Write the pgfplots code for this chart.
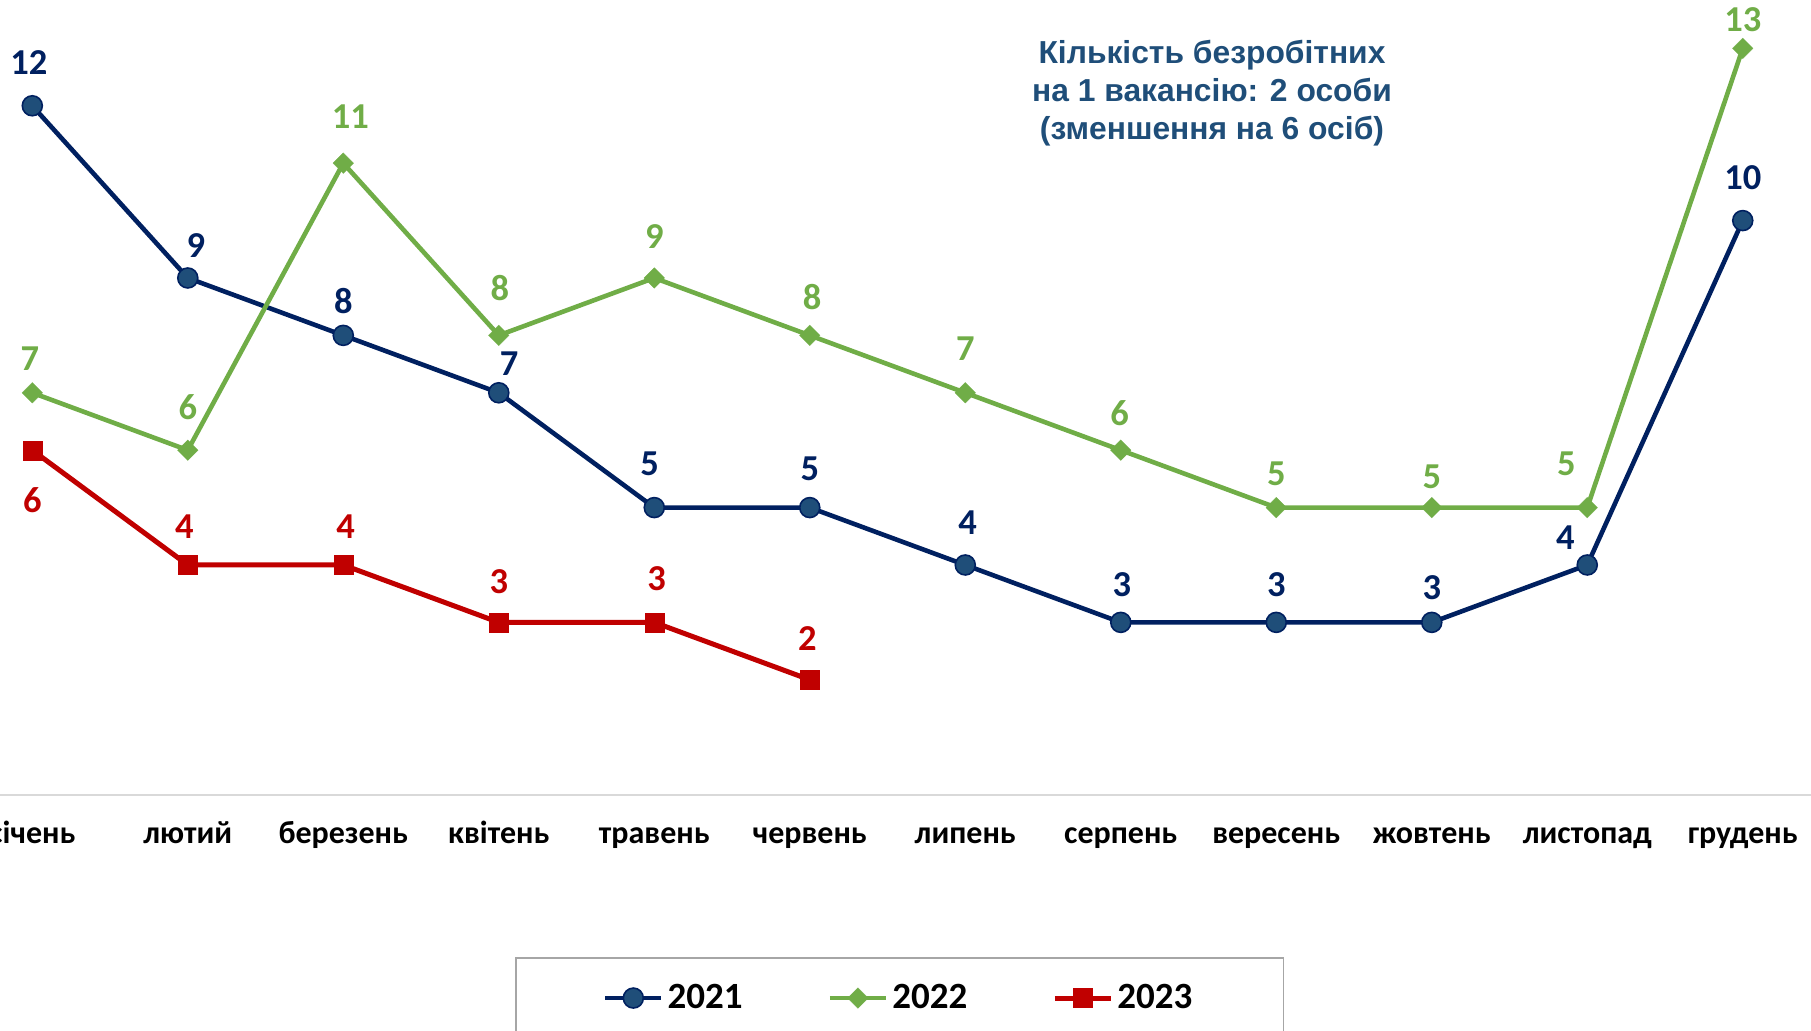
\documentclass[border=0pt]{standalone}
\usepackage{pgfplots}
\pgfplotsset{compat=1.18}
\usepackage{pgfplotstable}
\usepackage{fontspec}
\setmainfont{Carlito}
\newfontfamily\arialf{Liberation Sans}
\definecolor{navy}{RGB}{0,32,96}
\definecolor{markblue}{RGB}{31,78,121}
\definecolor{titleblue}{RGB}{31,78,121}
\definecolor{grn}{RGB}{112,173,71}
\definecolor{rd}{RGB}{192,0,0}
\definecolor{axgray}{RGB}{217,217,217}

% x = month index, y = value, dx/dy = label offset (pt)
\pgfplotstableread{
x y dx dy
0 12 -1.7 21.4
1 9 4.0 16.2
2 8 0 17.3
3 7 5.2 14.4
4 5 -2.3 21.9
5 5 0 19.6
6 4 1.2 21.4
7 3 0.6 19.0
8 3 0 19.0
9 3 0 17.3
10 4 -11.0 13.9
11 10 0 21.4
}\tA
\pgfplotstableread{
x y dx dy
0 7 -1.2 17.3
1 6 0 21.4
2 11 3.5 23.1
3 8 0.6 23.7
4 9 0 20.8
5 8 1.2 19.0
6 7 0 21.9
7 6 -0.6 18.5
8 5 0 16.7
9 5 0 15.6
10 5 -10.4 21.9
11 13 0 14.4
}\tB
\pgfplotstableread{
x y dx dy
0 6 0 -24.8
1 4 -1.7 19.0
2 4 1.2 19.0
3 3 0 20.2
4 3 1.2 21.9
5 2 -1.2 20.8
}\tC

\begin{document}
\begin{tikzpicture}
\begin{axis}[
  at={(0pt,118.2pt)}, anchor=south west,
  width=905.5pt, height=397.3pt, scale only axis,
  xmin=-0.2077, xmax=11.439, ymin=0, ymax=13.843,
  clip=false,
  axis y line=none,
  axis x line=bottom,
  x axis line style={draw=axgray, line width=1pt, -},
  xtick={0,...,11}, major tick length=0pt,
  xticklabels={січень,лютий,березень,квітень,травень,червень,липень,серпень,вересень,жовтень,листопад,грудень},
  xticklabel style={anchor=base, yshift=-24.7pt, font=\bfseries\fontsize{16}{18}\selectfont},
  nodes near coords={\pgfplotspointmeta},
  point meta=explicit symbolic,
  visualization depends on={\thisrow{dx}\as\dx},
  visualization depends on={\thisrow{dy}\as\dy},
  nodes near coords style={anchor=center, inner sep=0pt, xshift=\dx pt, yshift=\dy pt,
    font=\bfseries\fontsize{18.25}{20}\selectfont},
  legend columns=3,
  legend image code/.code={\draw[#1, mark repeat=2, mark phase=2] plot coordinates {(0pt,0pt) (14pt,0pt) (28pt,0pt)};},
  legend style={at={(axis description cs:0.2844,-0.2044)}, anchor=north west,
    draw=gray!70, line width=0.8pt, inner xsep=43.6pt, inner ysep=11.3pt,
    font=\bfseries\fontsize{18.5}{20}\selectfont,
    /tikz/every even column/.append style={column sep=40.5pt}},
]
\addplot[navy, line width=2.3pt, mark=*, mark size=5pt,
  mark options={fill=markblue, draw=navy, line width=0.8pt},
  every node near coord/.append style={text=navy}]
  table[x=x, y=y, meta=y] {\tA};
\addlegendentry{2021}
\addplot[grn, line width=2.3pt, mark=square*, mark size=3.65pt,
  mark options={rotate=45, fill=grn, draw=grn, line width=0.1pt},
  every node near coord/.append style={text=grn}]
  table[x=x, y=y, meta=y] {\tB};
\addlegendentry{2022}
\addplot[rd, line width=2.5pt, mark=square*, mark size=4.75pt,
  mark options={fill=rd, draw=rd, line width=0.1pt},
  every node near coord/.append style={text=rd}]
  table[x=x, y=y, meta=y] {\tC};
\addlegendentry{2023}
\end{axis}
\node[align=center, text=titleblue, font=\arialf\bfseries\fontsize{15.9}{19}\selectfont]
  at (606pt,469pt) {Кількість безробітних\\на 1 вакансію: 2 особи\\(зменшення на 6 осіб)};
\pgfresetboundingbox
\useasboundingbox (0pt,0pt) rectangle (905.5pt,515.5pt);
\end{tikzpicture}
\end{document}
